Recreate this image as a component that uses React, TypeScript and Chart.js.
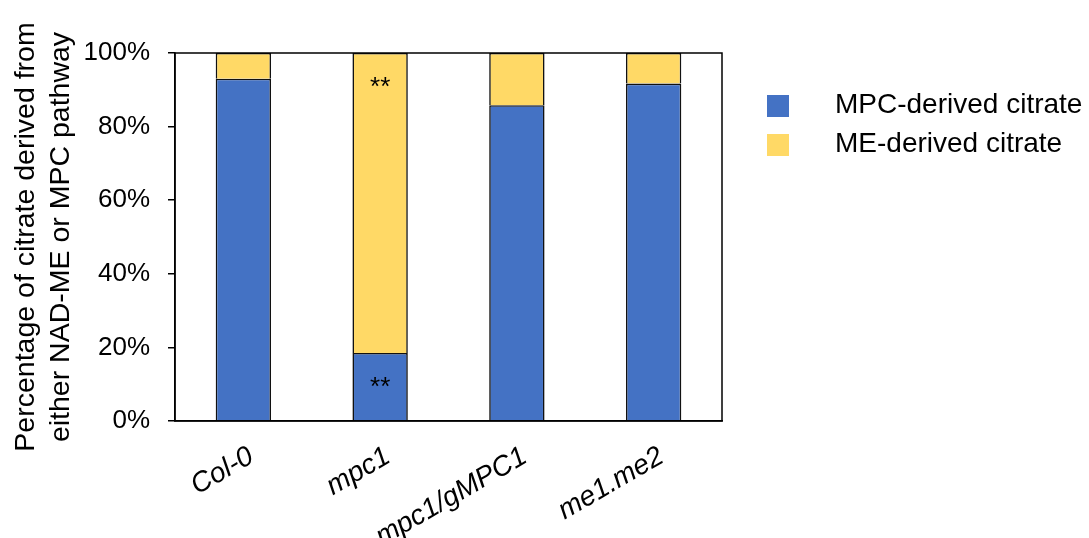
import React, { useEffect, useRef } from "react";
import { Chart, registerables } from "chart.js";

Chart.register(...registerables);

const categories = ["Col-0", "mpc1", "mpc1/gMPC1", "me1.me2"];
const mpcDerived = [93.0, 18.5, 85.8, 91.7];
const meDerived = [7.0, 81.5, 14.2, 8.3];
const mpcMarks = ["", "**", "", ""];
const meMarks = ["", "**", "", ""];
const seriesNames = ["MPC-derived citrate", "ME-derived citrate"];
const seriesColors = ["#4472C4", "#FFD966"];
const yTickValues = [0, 20, 40, 60, 80, 100];
const yTitle = ["Percentage of citrate derived from", "either NAD-ME or MPC pathway"];

const FONT = "'Liberation Sans', Arial, sans-serif";

const framePlugin = {
  id: "frame",
  afterDraw(chart: any) {
    const { ctx, chartArea } = chart;
    ctx.save();
    ctx.strokeStyle = "#000";
    ctx.lineWidth = 1.5;
    ctx.strokeRect(chartArea.left, chartArea.top, chartArea.right - chartArea.left, chartArea.bottom - chartArea.top);
    ctx.restore();
  },
};

const marksPlugin = {
  id: "marks",
  afterDatasetsDraw(chart: any) {
    const { ctx } = chart;
    const sets = [mpcMarks, meMarks];
    ctx.save();
    ctx.fillStyle = "#000";
    ctx.font = `26px ${FONT}`;
    ctx.textAlign = "center";
    ctx.textBaseline = "alphabetic";
    sets.forEach((marks, di) => {
      const meta = chart.getDatasetMeta(di);
      marks.forEach((m, i) => {
        if (!m) return;
        const el = meta.data[i];
        ctx.fillText(m, el.x, el.y + 42);
      });
    });
    ctx.restore();
  },
};

const legendPlugin = {
  id: "customLegend",
  afterDraw(chart: any) {
    const { ctx, chartArea } = chart;
    ctx.save();
    const boxX = chartArea.right + 45;
    const textX = chartArea.right + 113;
    seriesNames.forEach((name, i) => {
      const top = chartArea.top + 42 + i * 39;
      ctx.fillStyle = seriesColors[i];
      ctx.fillRect(boxX, top, 22, 22);
      ctx.fillStyle = "#000";
      ctx.font = `28px ${FONT}`;
      ctx.textAlign = "left";
      ctx.textBaseline = "alphabetic";
      ctx.fillText(name, textX, top + 18);
    });
    ctx.restore();
  },
};

export default function App() {
  const ref = useRef<HTMLCanvasElement>(null);
  useEffect(() => {
    if (!ref.current) return;
    const chart = new Chart(ref.current, {
      type: "bar",
      data: {
        labels: categories,
        datasets: [
          {
            label: seriesNames[0],
            data: mpcDerived,
            backgroundColor: seriesColors[0],
            borderColor: "#111",
            borderWidth: 1.6,
            barPercentage: 0.405,
            categoryPercentage: 1,
          },
          {
            label: seriesNames[1],
            data: meDerived,
            backgroundColor: seriesColors[1],
            borderColor: "#111",
            borderWidth: 1.6,
            barPercentage: 0.405,
            categoryPercentage: 1,
          },
        ],
      },
      options: {
        animation: false,
        responsive: false,
        maintainAspectRatio: false,
        layout: { padding: { top: 53, right: 367, left: 0, bottom: 0 } },
        plugins: { legend: { display: false }, tooltip: { enabled: false } },
        scales: {
          x: {
            stacked: true,
            grid: { display: false, drawTicks: false },
            border: { display: true, color: "#000", width: 1.5 },
            ticks: {
              color: "#000",
              font: { family: FONT, size: 28, style: "italic" },
              minRotation: 30,
              maxRotation: 30,
              padding: 19,
              labelOffset: 8,
            },
            afterFit(scale: any) {
              scale.height = 117;
            },
          },
          y: {
            stacked: true,
            min: 0,
            max: 100,
            afterBuildTicks(scale: any) {
              scale.ticks = yTickValues.map((v) => ({ value: v }));
            },
            grid: {
              display: true,
              drawOnChartArea: false,
              drawTicks: true,
              tickLength: 7,
              color: "#000",
              lineWidth: 1.5,
            },
            border: { display: true, color: "#000", width: 1.5 },
            ticks: {
              color: "#000",
              font: { family: FONT, size: 26 },
              padding: 18,
              callback: (v: any) => `${v}%`,
            },
            title: {
              display: true,
              text: yTitle,
              color: "#000",
              font: { family: FONT, size: 28.5, lineHeight: 1.23 },
              padding: { top: 9, bottom: 0 },
            },
            afterFit(scale: any) {
              scale.width = 175;
            },
          },
        },
      },
      plugins: [framePlugin, marksPlugin, legendPlugin],
    });
    return () => chart.destroy();
  }, []);
  return (
    <div style={{ position: "absolute", left: 0, top: 0, width: 1089, height: 538, background: "#fff" }}>
      <canvas ref={ref} width={1089} height={538} />
    </div>
  );
}
